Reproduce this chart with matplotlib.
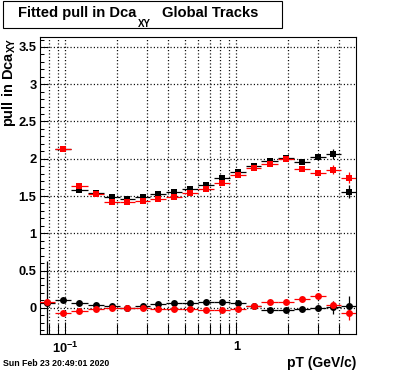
import numpy as np
import matplotlib
matplotlib.use('Agg')
import matplotlib.pyplot as plt
from matplotlib.patches import Rectangle
from matplotlib.ticker import FixedLocator, MultipleLocator, NullFormatter, FormatStrFormatter

plt.rcParams['font.family'] = ['Liberation Sans', 'DejaVu Sans']
plt.rcParams['font.weight'] = 'bold'
plt.rcParams['mathtext.fontset'] = 'custom'
plt.rcParams['mathtext.rm'] = 'Liberation Sans:bold'
plt.rcParams['mathtext.it'] = 'Liberation Sans:bold'
plt.rcParams['mathtext.bf'] = 'Liberation Sans:bold'
plt.rcParams['mathtext.default'] = 'rm'
plt.rcParams['lines.scale_dashes'] = False

# bin edges in pT (GeV/c), 20 bins
pt_edges = [0.0705, 0.0874, 0.1084, 0.1348, 0.1677, 0.2075, 0.2550, 0.3142, 0.3891,
            0.4815, 0.5970, 0.7425, 0.9211, 1.135, 1.400, 1.742, 2.166, 2.687,
            3.324, 4.084, 5.01]

# fitted sigma of pull (squares), bins 2..20
black_sq = [2.133, 1.582, 1.546, 1.492, 1.465, 1.492, 1.528, 1.560, 1.595, 1.654,
            1.748, 1.828, 1.909, 1.967, 2.008, 1.963, 2.017, 2.066, 1.560]
black_sq_err = [0.02, 0.02, 0.015, 0.015, 0.015, 0.015, 0.015, 0.015, 0.015, 0.015,
                0.015, 0.015, 0.02, 0.02, 0.02, 0.025, 0.03, 0.065, 0.09]
red_sq = [2.133, 1.636, 1.524, 1.425, 1.425, 1.439, 1.465, 1.492, 1.537, 1.600,
          1.681, 1.784, 1.882, 1.931, 1.990, 1.864, 1.815, 1.851, 1.748]
red_sq_err = [0.02, 0.02, 0.015, 0.015, 0.015, 0.015, 0.015, 0.015, 0.015, 0.015,
              0.015, 0.015, 0.02, 0.02, 0.02, 0.025, 0.03, 0.06, 0.075]

# fitted mean of pull (circles), bins 1..20
black_ci = [0.07, 0.103, 0.059, 0.036, 0.023, 0.0, 0.023, 0.045, 0.059, 0.068,
            0.081, 0.081, 0.068, 0.025, -0.035, -0.035, -0.022, -0.008, 0.005, 0.023]
black_ci_err = [0.56, 0.02, 0.015, 0.01, 0.01, 0.01, 0.01, 0.01, 0.01, 0.01,
                0.01, 0.01, 0.01, 0.015, 0.015, 0.015, 0.02, 0.03, 0.09, 0.14]
red_ci = [0.072, -0.076, -0.044, -0.017, -0.008, -0.008, -0.008, -0.022, -0.022, -0.022,
          -0.031, -0.031, -0.022, 0.027, 0.072, 0.072, 0.112, 0.157, 0.036, -0.076]
red_ci_err = [0.02, 0.02, 0.015, 0.01, 0.01, 0.01, 0.01, 0.01, 0.01, 0.01,
              0.01, 0.01, 0.01, 0.015, 0.015, 0.015, 0.02, 0.03, 0.05, 0.09]

edges = np.array(pt_edges)
centers = np.sqrt(edges[:-1] * edges[1:])
xerr = np.array([centers - edges[:-1], edges[1:] - centers])

fig = plt.figure(figsize=(3.96, 3.72), dpi=100)
ax = fig.add_axes([0.101, 0.102, 0.798, 0.7985])

def draw(x, xe, y, ye, color, marker):
    ax.errorbar(x, y, xerr=xe, yerr=ye, fmt=marker, color=color, ecolor=color,
                ms=5.0, mew=0, elinewidth=0.9, capsize=0, zorder=3)

draw(centers[1:], xerr[:, 1:], black_sq, black_sq_err, 'black', 's')
draw(centers[1:], xerr[:, 1:], red_sq, red_sq_err, 'red', 's')
draw(centers, xerr, black_ci, black_ci_err, 'black', 'o')
draw(centers, xerr, red_ci, red_ci_err, 'red', 'o')

ax.set_xscale('log')
ax.set_xlim(0.0711, 5.0)
ax.set_ylim(-0.353, 3.634)

ax.xaxis.set_major_locator(FixedLocator([0.1, 1]))
ax.set_xticklabels(['$10^{-1}$', '1'])
minor_x = [0.08, 0.09] + [k / 10 for k in range(2, 10)] + [2, 3, 4]
ax.xaxis.set_minor_locator(FixedLocator(minor_x))
ax.xaxis.set_minor_formatter(NullFormatter())
ax.yaxis.set_major_locator(MultipleLocator(0.5))
ax.yaxis.set_major_formatter(FormatStrFormatter('%g'))
ax.yaxis.set_minor_locator(MultipleLocator(0.1))

ax.tick_params(axis='both', which='both', direction='in', top=False, right=False,
               width=0.75, labelsize=9.3)
ax.tick_params(axis='y', which='major', length=6, pad=2.5)
ax.tick_params(axis='y', which='minor', length=3.2)
ax.tick_params(axis='x', which='major', length=8.4, pad=5)
ax.tick_params(axis='x', which='minor', length=7)

gstyle = dict(color='black', lw=0.9, linestyle=(0, (0.8, 1.6)))
ax.grid(True, which='both', axis='x', **gstyle)
ax.grid(True, which='major', axis='y', **gstyle)
for s in ax.spines.values():
    s.set_linewidth(0.8)

# title box (ROOT-style, subscript dropped well below the baseline)
fig.patches.append(Rectangle((3 / 396, 1 - 28 / 372), 279 / 396, 27 / 372,
                             transform=fig.transFigure, facecolor='white',
                             edgecolor='black', lw=0.8))
fig.text(18 / 396, 1 - 17 / 372, 'Fitted pull in Dca', fontsize=10.6,
         fontweight='bold', ha='left', va='baseline')
fig.text(138 / 396, 1 - 27 / 372, 'XY', fontsize=7, fontweight='bold',
         ha='left', va='baseline')
fig.text(162 / 396, 1 - 17 / 372, 'Global Tracks', fontsize=10.6,
         fontweight='bold', ha='left', va='baseline')

fig.text(9 / 396, 0.9005, 'pull in Dca$_{XY}$', rotation=90, fontsize=10.5,
         fontweight='bold', ha='center', va='top')
fig.text(356 / 396, 1 - 363 / 372, 'pT (GeV/c)', fontsize=10, fontweight='bold',
         ha='right', va='center')
fig.text(3 / 396, 1 - 364 / 372, 'Sun Feb 23 20:49:01 2020', fontsize=6.3,
         fontweight='bold', ha='left', va='center')

fig.savefig('out.png', dpi=100)
